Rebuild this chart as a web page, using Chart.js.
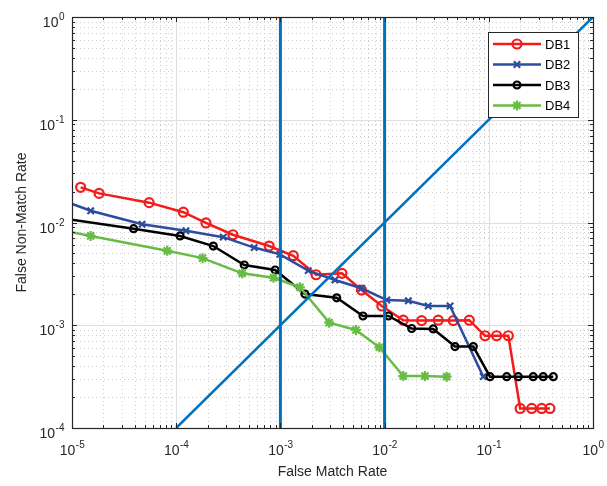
<!DOCTYPE html>
<html>
<head>
<meta charset="utf-8">
<script src="https://cdn.jsdelivr.net/npm/chart.js@4.4.1/dist/chart.umd.min.js"></script>
<style>
    html, body { margin: 0; padding: 0; background: #fff; }
    #wrap { width: 607px; height: 486px; }
</style>
</head>
<body>
<div id="wrap"><canvas id="detChart" width="607" height="486"></canvas></div>
<script>
// DET curves, values
const seriesNames = ["DB1", "DB2", "DB3", "DB4"];

const db1X = [1.21e-5, 1.82e-5, 5.5e-5, 1.17e-4, 1.93e-4, 3.5e-4, 7.8e-4, 1.33e-3, 2.2e-3, 3.9e-3,
    6.0e-3, 9.4e-3, 0.0151, 0.0227, 0.0327, 0.0456, 0.065, 0.092, 0.119, 0.154, 0.2, 0.258, 0.322, 0.386];
const db1Y = [0.0220, 0.0192, 0.0156, 0.0126, 0.0099, 0.0076, 0.0059, 0.00475, 0.0031, 0.0032,
    0.0022, 0.00154, 0.00112, 0.00111, 0.00112, 0.00111, 0.00112, 0.00079, 0.00079, 0.00079,
    0.000155, 0.000155, 0.000155, 0.000155];

const db2X = [9e-6, 1.51e-5, 4.7e-5, 1.24e-4, 2.83e-4, 5.6e-4, 9.9e-4, 1.85e-3, 3.34e-3, 6.0e-3,
    0.0105, 0.0169, 0.0262, 0.0425, 0.0885];
const db2Y = [0.0158, 0.0130, 0.0096, 0.0083, 0.0072, 0.0057, 0.0049, 0.0034, 0.00276, 0.00229,
    0.00176, 0.00173, 0.00154, 0.00154, 0.000316];

const db3X = [9e-6, 3.9e-5, 1.09e-4, 2.27e-4, 4.5e-4, 8.9e-4, 1.72e-3, 3.47e-3, 6.2e-3, 0.0109,
    0.0182, 0.0293, 0.0474, 0.071, 0.1026, 0.1486, 0.192, 0.267, 0.333, 0.416];
const db3Y = [0.0108, 0.0087, 0.0074, 0.0059, 0.00386, 0.00345, 0.00201, 0.00185, 0.00123, 0.00123,
    0.00093, 0.00092, 0.00062, 0.00062, 0.000316, 0.000316, 0.000316, 0.000316, 0.000316, 0.000316];

const db4X = [9e-6, 1.51e-5, 8.2e-5, 1.79e-4, 4.3e-4, 8.6e-4, 1.54e-3, 2.94e-3, 5.3e-3, 8.9e-3,
    0.0151, 0.0244, 0.0394];
const db4Y = [0.0082, 0.0074, 0.0053, 0.0045, 0.0032, 0.0029, 0.00234, 0.00106, 0.0009, 0.00061,
    0.00032, 0.00032, 0.000316];

// reference lines: FMR thresholds and the equal error line
const fmrThresholds = [1e-3, 1e-2];
const eerLine = [1e-4, 1];

const xExponents = [-5, -4, -3, -2, -1, 0];
const yExponents = [-4, -3, -2, -1, 0];

const FONT = '"Liberation Sans", Arial, Helvetica, sans-serif';
const AXIS_COLOR = "#262626";
const REF_COLOR = "#0072BD";

function toPoints(xs, ys) {
    return xs.map((x, i) => ({ x: x, y: ys[i] }));
}

const curveStyles = [
    { color: "#F21C1C", marker: "circle", radius: 4.5, fill: false },
    { color: "#2E4C9E", marker: "crossRot", radius: 4.5, fill: false },
    { color: "#000000", marker: "circle", radius: 3.5, fill: false },
    { color: "#67BC45", marker: "star", radius: 5, fill: true }
];
const curveData = [
    toPoints(db1X, db1Y),
    toPoints(db2X, db2Y),
    toPoints(db3X, db3Y),
    toPoints(db4X, db4Y)
];

const datasets = [];

fmrThresholds.forEach(t => {
    datasets.push({
        label: "FMR " + t,
        data: toPoints([t, t], [1e-4, 1]),
        borderColor: REF_COLOR,
        borderWidth: 3,
        pointRadius: 0,
        order: 0
    });
});

datasets.push({
    label: "EER",
    data: toPoints(eerLine, eerLine),
    borderColor: REF_COLOR,
    borderWidth: 2.5,
    pointRadius: 0,
    order: 0
});

seriesNames.forEach((name, i) => {
    const st = curveStyles[i];
    datasets.push({
        label: name,
        data: curveData[i],
        borderColor: st.color,
        backgroundColor: st.fill ? st.color : "#ffffff",
        borderWidth: 2.5,
        pointStyle: st.marker,
        pointRadius: st.radius,
        pointBorderWidth: 2.2,
        pointBorderColor: st.color,
        pointBackgroundColor: st.fill ? st.color : "rgba(0,0,0,0)",
        order: 4 - i
    });
});

function logValues(lo, hi) {
    const majors = [];
    const minors = [];
    for (let e = lo; e <= hi; e++) {
        majors.push(Math.pow(10, e));
        if (e < hi) {
            for (let k = 2; k <= 9; k++) {
                minors.push(k * Math.pow(10, e));
            }
        }
    }
    return { majors, minors };
}

const gridPlugin = {
    id: "matlabGrid",
    beforeDatasetsDraw(chart) {
        const ctx = chart.ctx;
        const a = chart.chartArea;
        const xs = chart.scales.x;
        const ys = chart.scales.y;
        const xv = logValues(xExponents[0], xExponents[xExponents.length - 1]);
        const yv = logValues(yExponents[0], yExponents[yExponents.length - 1]);

        ctx.save();
        ctx.lineWidth = 1;

        ctx.strokeStyle = "#cdcdcd";
        ctx.setLineDash([1, 3]);
        xv.minors.forEach(v => {
            const px = Math.round(xs.getPixelForValue(v)) + 0.5;
            ctx.beginPath();
            ctx.moveTo(px, a.top);
            ctx.lineTo(px, a.bottom);
            ctx.stroke();
        });
        yv.minors.forEach(v => {
            const py = Math.round(ys.getPixelForValue(v)) + 0.5;
            ctx.beginPath();
            ctx.moveTo(a.left, py);
            ctx.lineTo(a.right, py);
            ctx.stroke();
        });

        ctx.setLineDash([]);
        ctx.strokeStyle = "#dedede";
        xv.majors.forEach(v => {
            const px = Math.round(xs.getPixelForValue(v)) + 0.5;
            ctx.beginPath();
            ctx.moveTo(px, a.top);
            ctx.lineTo(px, a.bottom);
            ctx.stroke();
        });
        yv.majors.forEach(v => {
            const py = Math.round(ys.getPixelForValue(v)) + 0.5;
            ctx.beginPath();
            ctx.moveTo(a.left, py);
            ctx.lineTo(a.right, py);
            ctx.stroke();
        });
        ctx.restore();
    },

    afterDatasetsDraw(chart) {
        const ctx = chart.ctx;
        const a = chart.chartArea;
        const xs = chart.scales.x;
        const ys = chart.scales.y;
        const xv = logValues(xExponents[0], xExponents[xExponents.length - 1]);
        const yv = logValues(yExponents[0], yExponents[yExponents.length - 1]);

        ctx.save();
        ctx.strokeStyle = AXIS_COLOR;
        ctx.lineWidth = 1;

        // tick marks on all four sides, pointing in
        const tick = (v, len, isX) => {
            if (isX) {
                const px = Math.round(xs.getPixelForValue(v)) + 0.5;
                ctx.beginPath();
                ctx.moveTo(px, a.bottom);
                ctx.lineTo(px, a.bottom - len);
                ctx.moveTo(px, a.top);
                ctx.lineTo(px, a.top + len);
                ctx.stroke();
            } else {
                const py = Math.round(ys.getPixelForValue(v)) + 0.5;
                ctx.beginPath();
                ctx.moveTo(a.left, py);
                ctx.lineTo(a.left + len, py);
                ctx.moveTo(a.right, py);
                ctx.lineTo(a.right - len, py);
                ctx.stroke();
            }
        };
        xv.majors.forEach(v => tick(v, 5, true));
        xv.minors.forEach(v => tick(v, 3, true));
        yv.majors.forEach(v => tick(v, 5, false));
        yv.minors.forEach(v => tick(v, 3, false));

        // axes box
        ctx.lineWidth = 1.2;
        ctx.strokeRect(Math.round(a.left) + 0.5, Math.round(a.top) + 0.5,
            Math.round(a.right - a.left), Math.round(a.bottom - a.top));

        // tick labels 10^n
        const baseFont = "14px " + FONT;
        const expFont = "10px " + FONT;
        ctx.fillStyle = AXIS_COLOR;
        ctx.textBaseline = "alphabetic";
        ctx.textAlign = "left";

        const measure = (e) => {
            ctx.font = baseFont;
            const wb = ctx.measureText("10").width;
            ctx.font = expFont;
            const we = ctx.measureText(String(e)).width;
            return { wb, we };
        };
        const drawPow = (e, left, baseY) => {
            const m = measure(e);
            ctx.font = baseFont;
            ctx.fillText("10", left, baseY);
            ctx.font = expFont;
            ctx.fillText(String(e), left + m.wb + 0.5, baseY - 7);
            return m;
        };

        xExponents.forEach(e => {
            const px = xs.getPixelForValue(Math.pow(10, e));
            const m = measure(e);
            drawPow(e, px - (m.wb + m.we) / 2, a.bottom + 27);
        });
        yExponents.forEach(e => {
            const py = ys.getPixelForValue(Math.pow(10, e));
            const m = measure(e);
            drawPow(e, a.left - 8 - m.wb - m.we, py + 10);
        });

        // axis titles
        ctx.font = "14px " + FONT;
        ctx.textAlign = "center";
        ctx.fillText("False Match Rate", (a.left + a.right) / 2, a.bottom + 48);
        ctx.translate(26, (a.top + a.bottom) / 2);
        ctx.rotate(-Math.PI / 2);
        ctx.fillText("False Non-Match Rate", 0, 0);
        ctx.restore();
    },

    afterDraw(chart) {
        const ctx = chart.ctx;
        const a = chart.chartArea;
        const boxW = 90;
        const boxH = 85;
        const left = a.right - 105;
        const top = a.top + 15;

        ctx.save();
        ctx.fillStyle = "#ffffff";
        ctx.fillRect(left, top, boxW, boxH);
        ctx.strokeStyle = AXIS_COLOR;
        ctx.lineWidth = 1;
        ctx.strokeRect(left + 0.5, top + 0.5, boxW, boxH);

        seriesNames.forEach((name, i) => {
            const st = curveStyles[i];
            const y = top + 12 + i * 20.5;
            ctx.strokeStyle = st.color;
            ctx.lineWidth = 2.5;
            ctx.beginPath();
            ctx.moveTo(left + 5, y);
            ctx.lineTo(left + 53, y);
            ctx.stroke();
            ctx.lineWidth = 2.2;
            ctx.fillStyle = st.fill ? st.color : "rgba(0,0,0,0)";
            Chart.helpers.drawPoint(ctx, {
                pointStyle: st.marker,
                radius: st.radius,
                rotation: 0,
                borderWidth: 2.2
            }, left + 29, y);
            if (st.fill) ctx.fill();
            ctx.fillStyle = "#000000";
            ctx.font = "13px " + FONT;
            ctx.textAlign = "left";
            ctx.textBaseline = "middle";
            ctx.fillText(name, left + 57, y + 1);
        });
        ctx.restore();
    }
};

const detChart = new Chart(
    document.getElementById("detChart"),
    {
        type: "line",
        data: { datasets: datasets },
        options: {
            responsive: false,
            animation: false,
            devicePixelRatio: 1,
            layout: {
                padding: { left: 72, right: 14, top: 17, bottom: 58 }
            },
            plugins: {
                legend: { display: false },
                tooltip: { enabled: false }
            },
            scales: {
                x: {
                    type: "logarithmic",
                    min: 1e-5,
                    max: 1,
                    display: false
                },
                y: {
                    type: "logarithmic",
                    min: 1e-4,
                    max: 1,
                    display: false
                }
            }
        },
        plugins: [gridPlugin]
    }
);
</script>
</body>
</html>
